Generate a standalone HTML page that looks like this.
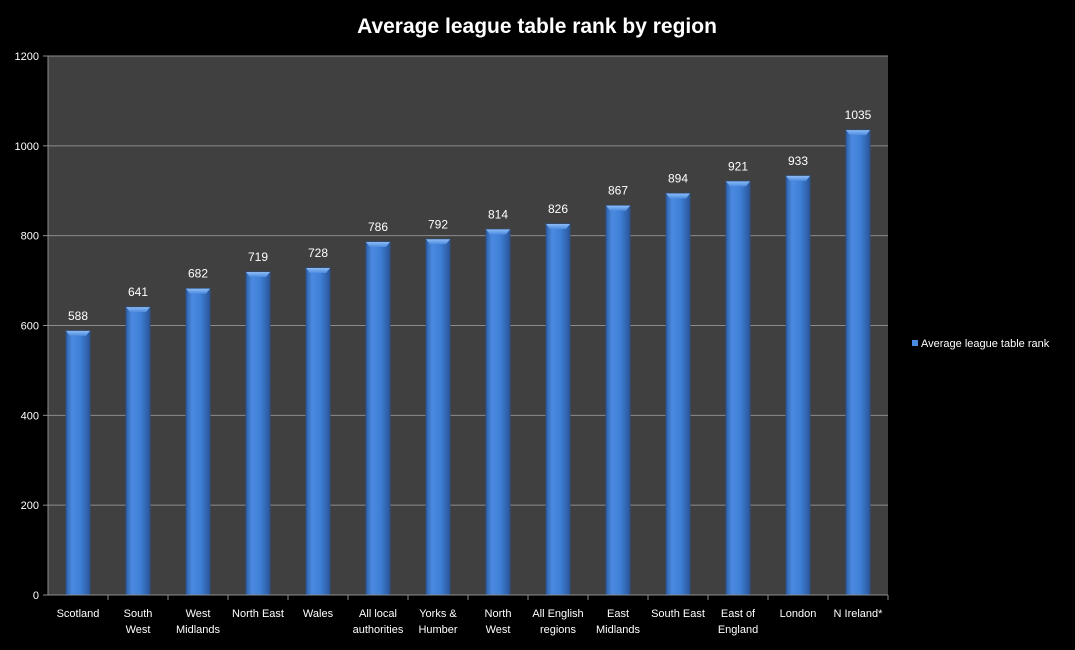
<!DOCTYPE html>
<html><head><meta charset="utf-8"><style>
body{margin:0;background:#000;width:1075px;height:645px;overflow:hidden;font-family:"Liberation Sans",sans-serif}
text{font-family:"Liberation Sans",sans-serif}
</style></head><body>
<svg id="c" width="1075" height="645" xmlns="http://www.w3.org/2000/svg">
<defs>
<linearGradient id="bg" x1="0" x2="1" y1="0" y2="0">
<stop offset="0" stop-color="#2d5fa8"/><stop offset="0.25" stop-color="#4a8ae0"/><stop offset="0.6" stop-color="#3f7fd6"/><stop offset="1" stop-color="#2a5699"/>
</linearGradient>
<linearGradient id="tg" x1="0" x2="0" y1="0" y2="1"><stop offset="0" stop-color="#8cbcf5"/><stop offset="1" stop-color="#4d8be0"/></linearGradient>
</defs>
<text x="537" y="33" text-anchor="middle" fill="#fff" font-size="21" font-weight="bold">Average league table rank by region</text>
<rect x="48" y="56" width="840" height="539" fill="#404040"/>
<g id="grid"></g><g id="bars"></g><g id="axes"></g>
<rect x="912" y="340" width="6" height="6" fill="#4a8ae0"/>
<text x="921" y="347" fill="#fff" font-size="11">Average league table rank</text>
</svg>
<script>
const categories=[["Scotland"],["South","West"],["West","Midlands"],["North East"],["Wales"],["All local","authorities"],["Yorks &","Humber"],["North","West"],["All English","regions"],["East","Midlands"],["South East"],["East of","England"],["London"],["N Ireland*"]];
const values=[588,641,682,719,728,786,792,814,826,867,894,921,933,1035];
const yTicks=[0,200,400,600,800,1000,1200];
const NS="http://www.w3.org/2000/svg";
const X0=48,W=840,Y0=595,H=539,YMAX=1200;
const bw=W/categories.length;
const y=v=>Y0-v/YMAX*H;
const xc=i=>X0+bw*(i+0.5);
function mk(t,a,p){const e=document.createElementNS(NS,t);for(const k in a)e.setAttribute(k,a[k]);p.appendChild(e);return e;}
const g=document.getElementById('grid'),b=document.getElementById('bars'),ax=document.getElementById('axes');
yTicks.forEach(t=>{
 if(t>0){const l=mk('line',{x1:X0,x2:X0+W,y1:y(t),y2:y(t),stroke:'#8c8c8c','stroke-width':1},g);
 
 }
 const tk=mk('line',{x1:X0-5,x2:X0,y1:y(t),y2:y(t),stroke:'#8c8c8c'},ax);
 
 
 const tx=mk('text',{x:X0-9,y:y(t)+4,'text-anchor':'end',fill:'#fff','font-size':11},ax);tx.textContent=t;
 
 
});
mk('line',{x1:X0,x2:X0,y1:56,y2:Y0,stroke:'#8c8c8c'},ax);
mk('line',{x1:X0,x2:X0+W,y1:Y0,y2:Y0,stroke:'#8c8c8c'},ax);
values.forEach((v,i)=>{
 const cx=xc(i),x=cx-12,top=y(v);
 const r=mk('rect',{x:x,y:top,width:24,height:Y0-top,fill:'url(#bg)',stroke:'#2a4f88','stroke-width':1},b);
 
 
 mk('polygon',{points:`${x},${top} ${x+24},${top} ${x+20},${top+5} ${x+4},${top+5}`,fill:'url(#tg)'},b);
 const lt=mk('text',{x:cx,y:top-11,'text-anchor':'middle',fill:'#fff','font-size':12},b);lt.textContent=v;
 
 
 const tk=mk('line',{x1:X0+bw*(i+1),x2:X0+bw*(i+1),y1:Y0,y2:Y0+5,stroke:'#8c8c8c'},ax);
 categories[i].forEach((s,j)=>{const t=mk('text',{x:cx,y:617+j*16,'text-anchor':'middle',fill:'#fff','font-size':11},ax);t.textContent=s;
 
 });
});
</script>
</body></html>
